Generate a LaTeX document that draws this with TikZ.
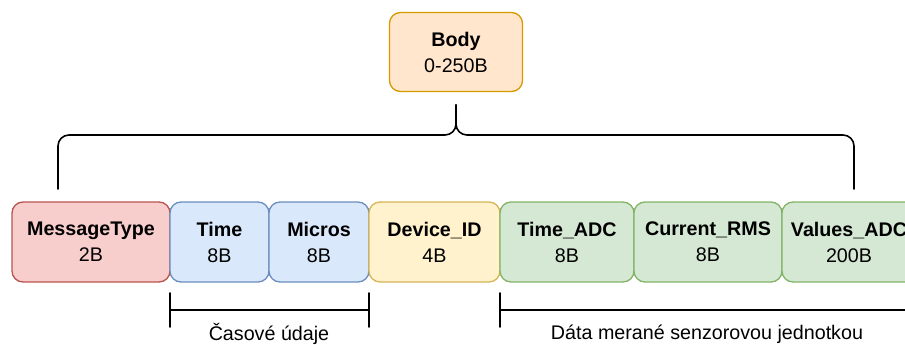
\documentclass[tikz,border=0pt]{standalone}
\usepackage{fontspec}
\setmainfont{Liberation Sans}
\usetikzlibrary{calc}
\definecolor{msgfill}{HTML}{F8CECC}
\definecolor{msgdraw}{HTML}{B85450}
\definecolor{timefill}{HTML}{DAE8FC}
\definecolor{timedraw}{HTML}{6C8EBF}
\definecolor{devfill}{HTML}{FFF2CC}
\definecolor{devdraw}{HTML}{D6B656}
\definecolor{datafill}{HTML}{D5E8D4}
\definecolor{datadraw}{HTML}{82B366}
\definecolor{bodyfill}{HTML}{FFE6CC}
\definecolor{bodydraw}{HTML}{D79B00}
\tikzset{
 field/.style={draw,rounded corners=11pt,line width=1.3pt,align=center,inner sep=0pt,
  minimum height=80pt,font=\fontsize{19.7}{26}\selectfont},
 bracket/.style={line width=1.6pt,line cap=round},
 caption/.style={font=\fontsize{19.7}{23}\selectfont,inner sep=0pt}
}
\begin{document}
\begin{tikzpicture}[x=1pt,y=-1pt]
 \useasboundingbox (0,0) rectangle (905,345);
 % header
 \node[field,fill=bodyfill,draw=bodydraw,minimum width=133pt,minimum height=79pt] (body) at (456,52) {\textbf{Body}\\0-250B};
 % fields of the message
 \node[field,fill=msgfill,draw=msgdraw,minimum width=158pt] (msgtype) at (91,242) {\textbf{MessageType}\\2B};
 \node[field,fill=timefill,draw=timedraw,minimum width=99pt] (time) at (219.5,242) {\textbf{Time}\\8B};
 \node[field,fill=timefill,draw=timedraw,minimum width=100pt] (micros) at (319,242) {\textbf{Micros}\\8B};
 \node[field,fill=devfill,draw=devdraw,minimum width=131pt] (devid) at (434.5,242) {\textbf{Device\_ID}\\4B};
 \node[field,fill=datafill,draw=datadraw,minimum width=134pt] (timeadc) at (567,242) {\textbf{Time\_ADC}\\8B};
 \node[field,fill=datafill,draw=datadraw,minimum width=148pt] (currms) at (708,242) {\textbf{Current\_RMS}\\8B};
 \node[field,fill=datafill,draw=datadraw,minimum width=134pt] (valadc) at (849,242) {\textbf{Values\_ADC}\\200B};
 % brace under the header
 \coordinate (btop) at (456,105);
 \coordinate (bmid) at (456,135);
 \coordinate (bleft) at (58,189);
 \coordinate (bright) at (854,189);
 \draw[bracket,rounded corners=11pt] (bleft) |- (bmid) -- (btop);
 \draw[bracket,rounded corners=11pt] (bright) |- (bmid) -- (btop);
 % time bracket
 \coordinate (ta) at (170,293);
 \coordinate (tb) at (369,293);
 \draw[bracket] (ta) -- ++(0,34);
 \draw[bracket] (tb) -- ++(0,34);
 \draw[bracket] ($(ta)+(0,17)$) -- ($(tb)+(0,17)$);
 \node[caption] (timecap) at (269,334) {Časové údaje};
 % data bracket
 \coordinate (da) at (500,293);
 \coordinate (db) at (915,293);
 \draw[bracket] (da) -- ++(0,34);
 \draw[bracket] ($(da)+(0,17)$) -- ($(db)+(0,17)$);
 \node[caption] (datacap) at (707,334) {Dáta merané senzorovou jednotkou};
\end{tikzpicture}
\end{document}
